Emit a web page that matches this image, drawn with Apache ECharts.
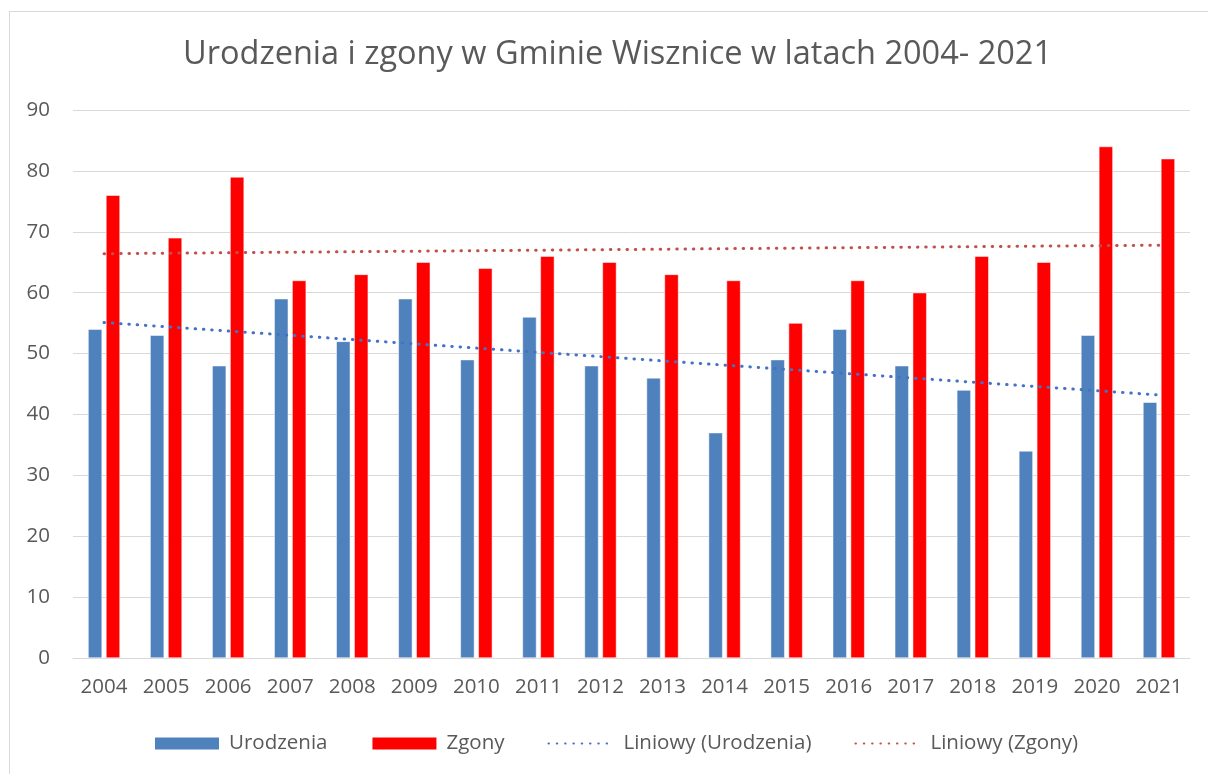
<!DOCTYPE html>
<html>
<head>
<meta charset="utf-8">
<script src="https://cdn.jsdelivr.net/npm/echarts@6/dist/echarts.min.js"></script>
<style>
  html, body {
    margin: 0;
    padding: 0;
    background: #ffffff;
    overflow: hidden;
  }
  .frame {
    position: absolute;
    left: 9px;
    top: 11px;
    width: 1400px;
    height: 900px;
    border: 1px solid #d9d9d9;
  }
  #chart {
    position: absolute;
    left: 0;
    top: 0;
    width: 1208px;
    height: 774px;
  }
</style>
</head>
<body>
<div class="frame"></div>
<div id="chart"></div>
<script>
const years = ['2004', '2005', '2006', '2007', '2008', '2009', '2010', '2011', '2012',
  '2013', '2014', '2015', '2016', '2017', '2018', '2019', '2020', '2021'];
const urodzenia = [54, 53, 48, 59, 52, 59, 49, 56, 48, 46, 37, 49, 54, 48, 44, 34, 53, 42];
const zgony = [76, 69, 79, 62, 63, 65, 64, 66, 65, 63, 62, 55, 62, 60, 66, 65, 84, 82];
// trend line end points (first and last year)
const trendYears = ['2004', '2021'];
const trendUrodzenia = [55.1, 43.2];
const trendZgony = [66.4, 67.8];
const yTicks = [0, 10, 20, 30, 40, 50, 60, 70, 80, 90];

const textColor = '#595959';
const font = '"Open Sans", Lato, sans-serif';
const labelSize = 20.5;

const chart = echarts.init(document.getElementById('chart'));

const trendLine = (color) => ({
  color: color,
  width: 3,
  type: [0.5, 7.8],
  cap: 'round'
});

chart.setOption({
  animation: false,
  textStyle: { fontFamily: font, color: textColor },
  title: {
    text: 'Urodzenia i zgony w Gminie Wisznice w latach 2004- 2021',
    left: 178,
    top: 33,
    textStyle: {
      fontFamily: font,
      fontSize: 32.5,
      fontWeight: 'normal',
      color: textColor
    }
  },
  grid: {
    left: 73,
    right: 18,
    top: 110,
    bottom: 116
  },
  xAxis: {
    type: 'category',
    data: years,
    axisTick: { show: false },
    axisLine: { lineStyle: { color: '#d9d9d9', width: 1 } },
    axisLabel: {
      fontSize: labelSize,
      color: textColor,
      margin: 19,
      fontFamily: font
    }
  },
  yAxis: {
    type: 'value',
    min: yTicks[0],
    max: yTicks[yTicks.length - 1],
    interval: 10,
    axisLine: { show: false },
    axisTick: { show: false },
    splitLine: { lineStyle: { color: '#d9d9d9', width: 1 } },
    axisLabel: {
      fontSize: labelSize,
      color: textColor,
      margin: 23,
      fontFamily: font
    }
  },
  legend: {
    bottom: 15,
    left: 148,
    itemWidth: 66,
    itemHeight: 14,
    itemGap: 43,
    textStyle: { fontSize: labelSize, color: textColor, fontFamily: font, padding: [0, 0, 0, 4] },
    data: [
      { name: 'Urodzenia', icon: 'rect' },
      { name: 'Zgony', icon: 'rect' },
      { name: 'Liniowy (Urodzenia)', itemStyle: { opacity: 0 } },
      { name: 'Liniowy (Zgony)', itemStyle: { opacity: 0 } }
    ]
  },
  series: [
    {
      name: 'Urodzenia',
      type: 'bar',
      data: urodzenia,
      barWidth: 14,
      barGap: '28%',
      itemStyle: { color: '#4f81bd', borderColor: '#ffffff', borderWidth: 0.5 }
    },
    {
      name: 'Zgony',
      type: 'bar',
      data: zgony,
      barWidth: 14,
      itemStyle: { color: '#ff0000', borderColor: '#ffffff', borderWidth: 0.5 }
    },
    {
      name: 'Liniowy (Urodzenia)',
      type: 'line',
      data: trendYears.map((y, i) => [y, trendUrodzenia[i]]),
      symbol: 'none',
      itemStyle: { color: '#4472c4' },
      lineStyle: trendLine('#4472c4'),
      z: 5
    },
    {
      name: 'Liniowy (Zgony)',
      type: 'line',
      data: trendYears.map((y, i) => [y, trendZgony[i]]),
      symbol: 'none',
      itemStyle: { color: '#c0504d' },
      lineStyle: trendLine('#c0504d'),
      z: 5
    }
  ]
});

window.addEventListener('resize', () => chart.resize());
</script>
</body>
</html>
